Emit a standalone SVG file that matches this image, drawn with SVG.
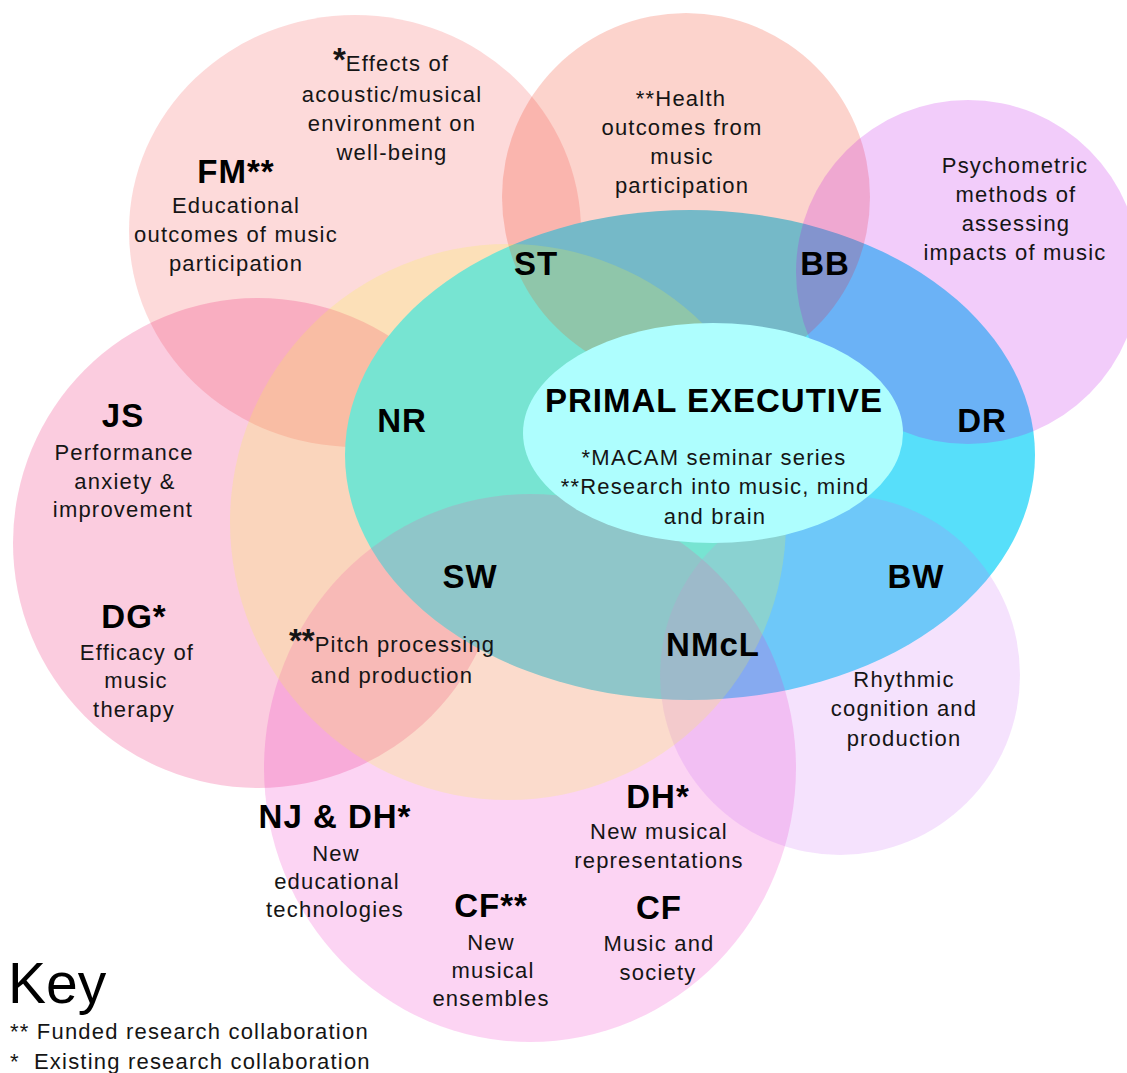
<svg xmlns="http://www.w3.org/2000/svg" width="1127" height="1073" viewBox="0 0 1127 1073">
<style>
.b{font-family:"Liberation Sans",Arial,sans-serif;font-weight:bold;font-size:33px;letter-spacing:1px;fill:#000;text-anchor:middle}
.t{font-family:"Liberation Sans",Arial,sans-serif;font-size:22px;letter-spacing:1.2px;fill:#151515;text-anchor:middle}
.s{text-anchor:start}
.a{font-weight:bold;font-size:33px;letter-spacing:0}
.tr{fill-opacity:0.2}
</style>
<rect width="1127" height="1073" fill="#fff"/>
<g id="shapes">
  <g id="node-fm"><ellipse class="tr" cx="355" cy="231" rx="226" ry="216" fill="rgb(245,70,70)"/></g>
  <g id="node-js"><circle class="tr" cx="258" cy="543" r="245" fill="rgb(235,0,95)"/></g>
  <g id="node-core"><ellipse cx="690" cy="455" rx="345" ry="245" fill="#57DFFA"/></g>
  <g id="node-health"><circle class="tr" cx="686" cy="197" r="184" fill="rgb(240,35,0)"/></g>
  <g id="node-psychometric"><circle class="tr" cx="968" cy="272" r="172" fill="rgb(190,0,230)"/></g>
  <g id="node-technologies"><ellipse class="tr" cx="530" cy="768" rx="266" ry="274" fill="rgb(240,40,195)"/></g>
  <g id="node-rhythmic"><circle class="tr" cx="840" cy="675" r="180" fill="rgb(205,110,245)"/></g>
  <g id="node-pitch"><circle class="tr" cx="508" cy="522" r="278" fill="rgb(250,250,50)"/></g>
  <g id="node-primal"><ellipse cx="713" cy="433" rx="190" ry="110" fill="#AEFEFE"/></g>
</g>
<g id="connectors"></g>
<g id="labels">
  <g id="label-effects">
    <text class="t s" x="333" y="71"><tspan class="a">*</tspan>Effects of</text>
    <text class="t" x="392" y="102">acoustic/musical</text>
    <text class="t" x="392" y="131">environment on</text>
    <text class="t" x="392" y="160">well-being</text>
  </g>
  <g id="label-fm">
    <text class="b" x="236" y="183">FM**</text>
    <text class="t" x="236" y="213">Educational</text>
    <text class="t" x="236" y="242">outcomes of music</text>
    <text class="t" x="236" y="271">participation</text>
  </g>
  <g id="label-health">
    <text class="t" x="681" y="106">**Health</text>
    <text class="t" x="682" y="135">outcomes from</text>
    <text class="t" x="682" y="164">music</text>
    <text class="t" x="682" y="193">participation</text>
  </g>
  <g id="label-psychometric">
    <text class="t" x="1015" y="173">Psychometric</text>
    <text class="t" x="1016" y="202">methods of</text>
    <text class="t" x="1016" y="231">assessing</text>
    <text class="t" x="1015" y="260">impacts of music</text>
  </g>
  <g id="label-core">
    <text class="b" x="536" y="275">ST</text>
    <text class="b" x="825" y="275">BB</text>
    <text class="b" x="402" y="432">NR</text>
    <text class="b" x="982" y="432">DR</text>
    <text class="b" x="470" y="588">SW</text>
    <text class="b" x="916" y="588">BW</text>
    <text class="b" x="713" y="656">NMcL</text>
  </g>
  <g id="label-primal">
    <text class="b" x="714" y="412">PRIMAL EXECUTIVE</text>
    <text class="t" x="714" y="465">*MACAM seminar series</text>
    <text class="t" x="715" y="494">**Research into music, mind</text>
    <text class="t" x="715" y="524">and brain</text>
  </g>
  <g id="label-js">
    <text class="b" x="123" y="427">JS</text>
    <text class="t" x="124" y="460">Performance</text>
    <text class="t" x="125" y="489">anxiety &amp;</text>
    <text class="t" x="123" y="517">improvement</text>
  </g>
  <g id="label-dg">
    <text class="b" x="134" y="628">DG*</text>
    <text class="t" x="137" y="660">Efficacy of</text>
    <text class="t" x="136" y="688">music</text>
    <text class="t" x="134" y="717">therapy</text>
  </g>
  <g id="label-pitch">
    <text class="t s" x="289" y="652"><tspan class="a">**</tspan>Pitch processing</text>
    <text class="t" x="392" y="683">and production</text>
  </g>
  <g id="label-rhythmic">
    <text class="t" x="904" y="687">Rhythmic</text>
    <text class="t" x="904" y="716">cognition and</text>
    <text class="t" x="904" y="746">production</text>
  </g>
  <g id="label-njdh">
    <text class="b" x="335" y="828">NJ &amp; DH*</text>
    <text class="t" x="336" y="861">New</text>
    <text class="t" x="337" y="889">educational</text>
    <text class="t" x="335" y="917">technologies</text>
  </g>
  <g id="label-dh">
    <text class="b" x="658" y="808">DH*</text>
    <text class="t" x="659" y="839">New musical</text>
    <text class="t" x="659" y="868">representations</text>
  </g>
  <g id="label-cf2">
    <text class="b" x="491" y="917">CF**</text>
    <text class="t" x="491" y="950">New</text>
    <text class="t" x="493" y="978">musical</text>
    <text class="t" x="491" y="1006">ensembles</text>
  </g>
  <g id="label-cf">
    <text class="b" x="659" y="919">CF</text>
    <text class="t" x="659" y="951">Music and</text>
    <text class="t" x="658" y="980">society</text>
  </g>
  <g id="key">
    <text x="8" y="1003" font-family="Liberation Sans, Arial, sans-serif" font-size="57" fill="#000">Key</text>
    <text class="t s" x="10" y="1039">** Funded research collaboration</text>
    <text class="t s" x="10" y="1069">*<tspan x="34">Existing research collaboration</tspan></text>
  </g>
</g>
</svg>
